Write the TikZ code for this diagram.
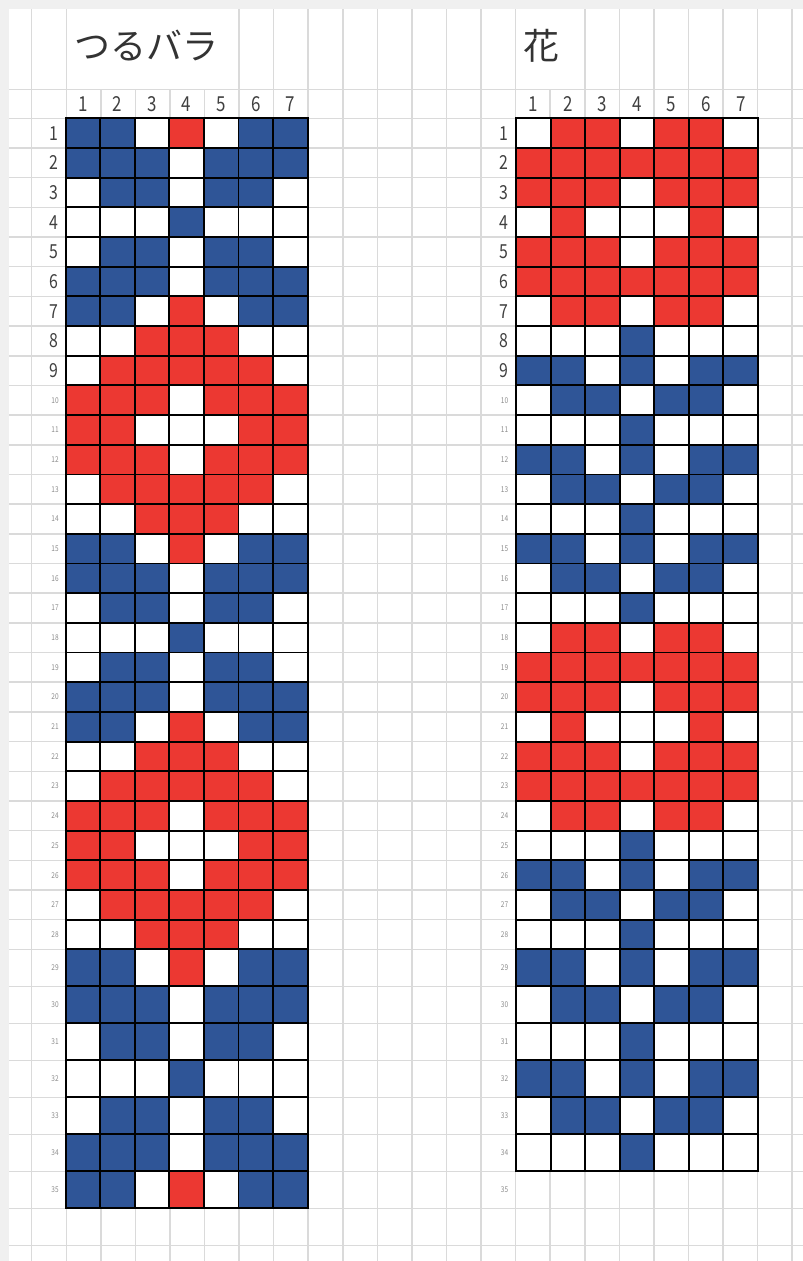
\documentclass[tikz,border=0pt]{standalone}
\usepackage{fontspec}
\setmainfont{Noto Sans CJK JP}
\newfontfamily\numfont[FakeStretch=0.82]{Noto Sans CJK JP}
\usepackage{xcolor}
\definecolor{stB}{HTML}{2F5597}
\definecolor{stR}{HTML}{EC3832}
\definecolor{stW}{HTML}{FFFFFF}
\definecolor{sheetline}{HTML}{DADADA}
\definecolor{sheetbg}{HTML}{F0F0F0}

% one row of a chart: left x, row, list of stitches
\newcommand\knitrow[3]{%
  \foreach \c [count=\i] in #3
    \filldraw[stitch, fill=st\c] ({#1+34.57*(\i-1)},{rowy(#2)}) rectangle ++(34.57,{rowy(#2+1)-rowy(#2)});
}

\begin{document}
\begin{tikzpicture}[
    x=0.75pt, y=-0.75pt,
    declare function={rowy(\r)=(\r<29) ? (118.3+29.68*(\r-1)) : (949.3+37*(\r-29));},
    sheet/.style={draw=sheetline, line width=1.15pt},
    stitch/.style={draw=black, line width=1.4pt},
    title/.style={font=\fontsize{27}{30}\selectfont, text=black!80, anchor=west, inner sep=0pt},
    colnum/.style={font=\numfont\fontsize{15.5}{16}\selectfont, text=black!75, inner sep=0pt},
    rownum/.style={font=\numfont\fontsize{14.5}{16}\selectfont, text=black!75, anchor=east, inner sep=0pt},
    tinynum/.style={font=\numfont\fontsize{6}{6}\selectfont, text=black!45, anchor=east, inner sep=0pt},
]

\useasboundingbox (0,0) rectangle (803,1261);
\fill[sheetbg] (0,0) rectangle (803,9);
\fill[sheetbg] (0,0) rectangle (9,1261);

% spreadsheet lines
\foreach \k in {0,...,22}
  \draw[sheet] ({31.7+34.57*\k},89.3) -- ++(0,1172);
\foreach \k in {0,1,6,7,...,14,16,17,...,22}
  \draw[sheet] ({31.7+34.57*\k},9) -- ++(0,80.3);
\draw[sheet] (9,89.3) -- (803,89.3);
\foreach \r in {1,...,37}
  \draw[sheet] (9,{rowy(\r)}) -- (803,{rowy(\r)});

\node[title] (tsuru) at (74,46) {つるバラ};
\node[title] (hana) at (523,46) {花};

\foreach \i in {1,...,7} {
  \node[colnum] (lc\i) at ({65.7+34.57*(\i-0.5)},104) {\i};
  \node[colnum] (rc\i) at ({516+34.57*(\i-0.5)},104) {\i};
}

\foreach \r in {1,...,35} {
  \pgfmathsetmacro\ym{(rowy(\r)+rowy(\r+1))/2}
  \ifnum\r<10
    \node[rownum] (lr\r) at (59,\ym) {\r};
    \node[rownum] (rr\r) at (508.5,\ym) {\r};
  \else
    \node[tinynum] (lr\r) at (59,\ym) {\r};
    \node[tinynum] (rr\r) at (508.5,\ym) {\r};
  \fi
}

% left chart: rose vine, 14 rows repeated
\foreach \r/\p in {1/{B,B,W,R,W,B,B}, 2/{B,B,B,W,B,B,B}, 3/{W,B,B,W,B,B,W},
    4/{W,W,W,B,W,W,W}, 5/{W,B,B,W,B,B,W}, 6/{B,B,B,W,B,B,B}, 7/{B,B,W,R,W,B,B},
    8/{W,W,R,R,R,W,W}, 9/{W,R,R,R,R,R,W}, 10/{R,R,R,W,R,R,R}, 11/{R,R,W,W,W,R,R},
    12/{R,R,R,W,R,R,R}, 13/{W,R,R,R,R,R,W}, 14/{W,W,R,R,R,W,W}} {
  \foreach \off in {0,14,28} {
    \pgfmathtruncatemacro\rr{\r+\off}
    \ifnum\rr<36 \knitrow{65.7}{\rr}{\p} \fi
  }
}

% right chart: flower, 17 rows repeated
\foreach \r/\p in {1/{W,R,R,W,R,R,W}, 2/{R,R,R,R,R,R,R}, 3/{R,R,R,W,R,R,R},
    4/{W,R,W,W,W,R,W}, 5/{R,R,R,W,R,R,R}, 6/{R,R,R,R,R,R,R}, 7/{W,R,R,W,R,R,W},
    8/{W,W,W,B,W,W,W}, 9/{B,B,W,B,W,B,B}, 10/{W,B,B,W,B,B,W}, 11/{W,W,W,B,W,W,W},
    12/{B,B,W,B,W,B,B}, 13/{W,B,B,W,B,B,W}, 14/{W,W,W,B,W,W,W}, 15/{B,B,W,B,W,B,B},
    16/{W,B,B,W,B,B,W}, 17/{W,W,W,B,W,W,W}} {
  \foreach \off in {0,17} {
    \pgfmathtruncatemacro\rr{\r+\off}
    \knitrow{516}{\rr}{\p}
  }
}

\end{tikzpicture}
\end{document}
